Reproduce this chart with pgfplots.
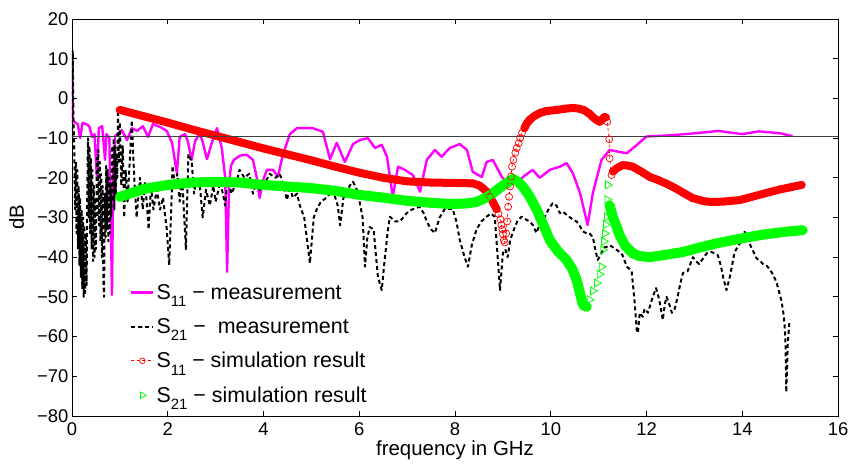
\documentclass[border=0pt]{standalone}
\usepackage{fontspec}
\setmainfont{Liberation Sans}
\usepackage{pgfplots}
\usepackage{pgfplotstable}
\pgfplotsset{compat=1.18}
\definecolor{mmag}{rgb}{1,0,1}
\definecolor{mred}{rgb}{1,0,0}
\definecolor{mgreen}{rgb}{0,1,0}
\newcommand{\sub}[1]{\raisebox{-7.5bp}{\fontsize{15}{15}\selectfont #1}}

% S11 simulation (red)
\pgfplotstableread{
x y
1.0 -2.9
1.5 -4.5
2.0 -6.1
2.5 -7.8
3.0 -9.4
3.5 -11.0
4.0 -12.6
4.5 -14.1
5.0 -15.6
5.5 -17.2
6.0 -18.7
6.5 -20.0
7.0 -20.9
7.5 -21.2
8.0 -21.3
8.37 -21.4
8.5 -21.9
8.58 -22.6
8.66 -23.5
8.73 -24.8
8.8 -26.3
8.87 -27.9
}\redA
\pgfplotstableread{
x y
8.87 -27.9
8.91 -29.1
8.95 -30.5
8.97 -31.9
8.99 -33.0
9.00 -34.2
9.02 -35.7
9.04 -36.3
9.07 -34.0
9.09 -31.0
9.11 -27.3
9.13 -24.8
9.15 -22.2
9.17 -19.7
9.19 -17.2
9.22 -15.5
9.26 -13.7
9.29 -12.5
9.33 -11.3
9.36 -10.0
9.40 -8.7
9.45 -7.5
}\redB
\pgfplotstableread{
x y
9.45 -7.5
9.50 -6.3
9.56 -5.4
9.65 -4.5
9.77 -3.7
9.90 -3.2
10.13 -2.9
10.30 -2.6
10.46 -2.4
10.60 -2.6
10.70 -3.0
10.80 -3.8
10.88 -4.7
10.95 -5.4
11.02 -5.9
11.07 -5.3
11.12 -4.7
11.15 -4.8
}\redC
\pgfplotstableread{
x y
11.15 -4.8
11.18 -5.9
11.22 -10.3
11.23 -15.1
11.27 -19.3
11.30 -18.4
}\redD
\pgfplotstableread{
x y
11.30 -18.4
11.38 -17.6
11.50 -16.8
11.60 -16.9
11.71 -17.2
11.90 -18.5
12.07 -19.8
12.25 -20.6
12.42 -21.5
12.60 -22.6
12.80 -24.0
12.96 -25.1
13.20 -25.9
13.38 -26.1
13.60 -26.0
13.95 -25.6
14.20 -24.8
14.51 -23.8
14.80 -22.9
15.00 -22.4
15.24 -21.8
}\redE

% S21 simulation (green)
\pgfplotstableread{
x y
1.0 -24.8
1.5 -22.8
2.0 -21.8
2.5 -21.2
3.0 -21.0
3.5 -21.2
4.0 -21.8
4.5 -22.2
5.0 -22.6
5.5 -23.3
6.0 -24.3
6.5 -25.0
7.0 -25.8
7.5 -26.3
7.9 -26.6
8.2 -26.5
8.45 -26.1
8.65 -25.0
8.8 -23.8
8.95 -22.4
9.08 -21.3
9.21 -20.3
9.32 -21.0
9.42 -22.3
9.55 -24.5
9.71 -28.1
9.85 -32.0
9.98 -35.7
10.15 -38.5
10.33 -40.7
10.45 -43.0
10.54 -45.7
10.62 -49.5
10.67 -52.0
10.75 -52.5
}\greenA
\pgfplotstableread{
x y
10.75 -52.5
10.81 -50.7
10.88 -48.5
10.96 -46.5
11.02 -44.3
11.06 -42.4
11.09 -38.2
11.11 -36.0
11.13 -34.0
11.15 -31.8
11.17 -29.8
11.18 -25.5
11.19 -21.8
11.23 -27.0
}\greenB
\pgfplotstableread{
x y
11.23 -27.0
11.30 -30.0
11.38 -32.5
11.44 -34.5
11.55 -37.0
11.71 -39.0
11.85 -39.7
12.07 -40.0
12.40 -39.4
12.76 -38.7
13.10 -37.6
13.47 -36.5
13.80 -35.7
14.15 -34.9
14.50 -34.2
14.90 -33.6
15.26 -33.2
}\greenC

\begin{document}
\begin{tikzpicture}
\begin{axis}[
  scale only axis, width=766bp, height=397bp,
  xmin=0, xmax=16, ymin=-80, ymax=20,
  xtick={0,2,...,16}, ytick={-80,-70,...,20},
  xticklabels={0,2,4,6,8,10,12,14,16},
  yticklabels={−80,−70,−60,−50,−40,−30,−20,−10,0,10,20},
  tick label style={font=\fontsize{18.5}{18.5}\selectfont},
  xticklabel style={anchor=base, yshift=-20bp},
  yticklabel style={anchor=east, xshift=0bp},
  xlabel={frequency in GHz}, ylabel={dB},
  xlabel style={font=\fontsize{20.5}{20.5}\selectfont, at={(axis description cs:0.5,-0.0995)}, anchor=base},
  ylabel style={font=\fontsize{20.5}{20.5}\selectfont, at={(axis description cs:-0.0725,0.5)}, anchor=center},
  axis line style={line width=0.9bp},
  major tick style={line width=0.9bp, black},
  major tick length=5bp,
  tick align=inside,
  legend style={draw=none, fill=none, at={(axis cs:1.21,-46.3)}, anchor=north west,
    font=\fontsize{21.5}{21.5}\selectfont, row sep=13.5bp, inner sep=0pt,
    cells={anchor=west}},
  legend image code/.code={\draw[mark repeat=2,mark phase=2,#1] plot coordinates {(0bp,0bp) (11bp,0bp) (22bp,0bp)};},
]
\addlegendimage{mmag, line width=2.4bp}
\addlegendimage{black, line width=2bp, dash pattern=on 4bp off 3bp}
\addlegendimage{mred, line width=0.7bp, dash pattern=on 3bp off 2.5bp, mark=o, mark size=2.8bp, mark options={solid}}
\addlegendimage{only marks, mgreen, mark=triangle, mark size=3.8bp, mark options={rotate=-90, line width=0.7bp}}

% S11 measurement
\addplot[mmag, line width=2.4bp, line join=round, forget plot] coordinates {
(0,7) (0.02,-5.5) (0.06,-6) (0.12,-6.5) (0.17,-10) (0.22,-6.2) (0.3,-6.5) (0.36,-7)
(0.42,-9.7) (0.47,-9) (0.52,-20) (0.56,-7.5) (0.63,-7) (0.69,-15.5) (0.72,-9) (0.78,-10)
(0.81,-30) (0.835,-49.5) (0.86,-20) (0.9,-9.5) (1.0,-8.5) (1.04,-8) (1.15,-10.5) (1.25,-7.5)
(1.36,-8.2) (1.48,-7) (1.59,-9.7) (1.69,-6.5) (1.84,-7.2) (1.98,-8.2) (2.09,-11.2) (2.19,-18.8)
(2.25,-9.7) (2.36,-9) (2.42,-10.8) (2.5,-15.5) (2.57,-10.8) (2.67,-8.8) (2.73,-11) (2.82,-15.3)
(2.92,-11.2) (3.03,-7.5) (3.13,-12.6) (3.2,-20) (3.24,-43.7) (3.28,-22) (3.32,-17) (3.38,-15.5)
(3.51,-14.4) (3.65,-14.2) (3.78,-15.5) (3.86,-20) (3.92,-25.1) (3.98,-21) (4.07,-18) (4.2,-18)
(4.3,-19.7) (4.4,-14.4) (4.55,-9) (4.7,-7.5) (5.03,-7.5) (5.24,-8.4) (5.39,-15.3) (5.53,-11.2)
(5.7,-16) (5.87,-11.5) (6.01,-10.5) (6.18,-10) (6.33,-12.5) (6.47,-11.7) (6.58,-14.7) (6.7,-24.8)
(6.81,-17.2) (6.95,-18) (7.12,-19.3) (7.27,-23.5) (7.41,-15.5) (7.58,-13) (7.72,-14.7) (7.89,-12.5)
(8.1,-11.5) (8.25,-13) (8.37,-18.5) (8.56,-19.8) (8.66,-16) (8.79,-15.5) (8.98,-19.8) (9.08,-21.3)
(9.29,-21.3) (9.42,-19.8) (9.62,-18) (9.77,-20) (9.98,-18) (10.19,-17.2) (10.33,-16.3) (10.46,-18.8)
(10.61,-23.8) (10.77,-31.9) (10.88,-23.8) (11.06,-15.5) (11.23,-13) (11.44,-13.5) (11.59,-13.8)
(11.8,-11.7) (12.0,-9.6) (12.5,-9.3) (13.0,-8.8) (13.5,-8.2) (14.0,-9) (14.35,-8.3) (14.8,-8.8) (15.05,-9.5)
};

% S21 measurement
\addplot[black, line width=2bp, dash pattern=on 4bp off 3bp, line join=round, forget plot] coordinates {
(0,-10) (0.015,12) (0.03,-5) (0.05,-15) (0.065,-28) (0.08,-16) (0.095,-34) (0.11,-18) (0.125,-38)
(0.14,-22) (0.155,-42) (0.17,-25) (0.185,-45) (0.2,-28) (0.215,-48) (0.23,-30) (0.245,-50) (0.26,-32)
(0.275,-49) (0.29,-35) (0.305,-47) (0.32,-22) (0.335,-10) (0.35,-30) (0.365,-12) (0.38,-34) (0.395,-15)
(0.41,-38) (0.425,-18) (0.44,-41) (0.455,-22) (0.47,-40) (0.485,-25) (0.5,-38) (0.52,-15) (0.535,-30)
(0.55,-13) (0.565,-32) (0.58,-16) (0.595,-36) (0.61,-19) (0.625,-40) (0.64,-22) (0.655,-46) (0.67,-50)
(0.685,-24) (0.7,-35) (0.715,-17) (0.73,-33) (0.745,-18) (0.76,-36) (0.775,-20) (0.79,-34) (0.805,-22)
(0.82,-30) (0.84,-12) (0.855,-26) (0.87,-10) (0.885,-28) (0.9,-12) (0.915,-25) (0.93,-14) (0.945,-20)
(0.96,-3) (0.98,-16) (1.0,-6) (1.03,-22) (1.06,-12) (1.09,-30) (1.12,-18) (1.16,-26) (1.21,-15)
(1.25,-5.5) (1.3,-20) (1.35,-30) (1.42,-20) (1.48,-28) (1.52,-21) (1.56,-26) (1.6,-33) (1.65,-22)
(1.7,-28) (1.77,-23) (1.84,-28) (1.9,-25) (1.98,-33) (2.03,-42) (2.08,-25) (2.1,-17) (2.15,-22)
(2.2,-19) (2.25,-26) (2.3,-20) (2.38,-38) (2.43,-14) (2.5,-16) (2.55,-24) (2.6,-20) (2.67,-22)
(2.73,-30) (2.8,-23) (2.88,-27) (2.95,-22) (3.0,-26) (3.1,-21) (3.2,-27) (3.25,-20) (3.33,-24)
(3.44,-21) (3.5,-18) (3.6,-20) (3.7,-19) (3.78,-24) (3.85,-21) (3.92,-23) (4.0,-22) (4.13,-19)
(4.25,-20) (4.34,-19) (4.42,-22) (4.49,-25.6) (4.55,-22) (4.61,-25) (4.7,-24) (4.76,-27) (4.85,-30)
(4.97,-41.5) (5.05,-30) (5.11,-28) (5.2,-26) (5.32,-25) (5.45,-23) (5.55,-27) (5.6,-32) (5.67,-25)
(5.74,-24) (5.8,-22) (5.87,-21) (5.95,-23) (6.0,-25.6) (6.07,-30) (6.12,-42.4) (6.17,-35) (6.22,-32.4)
(6.3,-33) (6.39,-45) (6.47,-48.3) (6.53,-40.7) (6.6,-33) (6.64,-29.8) (6.75,-31) (6.85,-31) (6.99,-28.9)
(7.1,-28) (7.26,-27.3) (7.35,-29) (7.41,-31) (7.5,-33) (7.58,-33.9) (7.68,-30) (7.79,-27.8) (7.95,-27.8)
(8.03,-31) (8.1,-35.7) (8.2,-40) (8.27,-42.4) (8.35,-37) (8.45,-33) (8.55,-31) (8.66,-29.8) (8.75,-29)
(8.83,-29.8) (8.88,-38) (8.94,-48.3) (9.0,-39) (9.05,-38) (9.1,-40) (9.15,-36) (9.2,-33.9) (9.3,-31)
(9.39,-29.8) (9.48,-30.5) (9.56,-31) (9.63,-32) (9.7,-33.9) (9.76,-32) (9.83,-31) (9.95,-28) (10.04,-26.4)
(10.12,-27) (10.19,-28.9) (10.25,-28.5) (10.35,-29.5) (10.46,-30.5) (10.54,-31) (10.6,-32) (10.67,-33.5)
(10.75,-34) (10.81,-34) (10.88,-35) (10.93,-38) (10.98,-40.7) (11.06,-39) (11.12,-37.5) (11.17,-37.4)
(11.23,-37) (11.3,-37.5) (11.44,-38.7) (11.5,-39.5) (11.59,-42.4) (11.65,-43) (11.69,-43.5) (11.75,-51)
(11.8,-59) (11.82,-59) (11.86,-54) (11.92,-55) (11.96,-53) (12.03,-54) (12.08,-52) (12.13,-50) (12.2,-47.8)
(12.25,-50) (12.28,-51.6) (12.34,-55.8) (12.38,-52) (12.42,-50) (12.48,-52) (12.53,-54) (12.59,-53)
(12.65,-50) (12.7,-47) (12.76,-44) (12.86,-43.5) (12.97,-40) (13.03,-41) (13.1,-41.7) (13.2,-40)
(13.26,-39) (13.36,-38.7) (13.49,-39.5) (13.55,-42) (13.6,-45) (13.67,-48.3) (13.74,-45) (13.84,-38.7)
(13.95,-36.5) (14.05,-33.6) (14.15,-36.5) (14.3,-40.3) (14.38,-41) (14.43,-41.7) (14.5,-42) (14.57,-43)
(14.65,-44.5) (14.72,-46.5) (14.82,-51) (14.87,-55) (14.9,-60) (14.92,-74) (14.95,-62) (14.98,-57) (15.0,-55.8)
};

% S11 simulation: dense bands then marks
\addplot[mred, line width=8bp, line cap=round, line join=round, forget plot] table {\redA};
\addplot[mred, line width=8bp, line cap=round, line join=round, forget plot] table {\redC};
\addplot[mred, line width=8bp, line cap=round, line join=round, forget plot] table {\redE};
\addplot[mred, line width=0.7bp, dash pattern=on 3bp off 2.5bp, mark=o, mark size=3.5bp, mark options={solid}, forget plot] table {\redA};
\addplot[mred, line width=0.7bp, dash pattern=on 3bp off 2.5bp, mark=o, mark size=3.5bp, mark options={solid}, forget plot] table {\redB};
\addplot[mred, line width=0.7bp, dash pattern=on 3bp off 2.5bp, mark=o, mark size=3.5bp, mark options={solid}, forget plot] table {\redC};
\addplot[mred, line width=0.7bp, dash pattern=on 3bp off 2.5bp, mark=o, mark size=3.5bp, mark options={solid}, forget plot] table {\redD};
\addplot[mred, line width=0.7bp, dash pattern=on 3bp off 2.5bp, mark=o, mark size=3.5bp, mark options={solid}, forget plot] table {\redE};

% S21 simulation
\addplot[mgreen, line width=10bp, line cap=round, line join=round, forget plot] table {\greenA};
\addplot[mgreen, line width=10bp, line cap=round, line join=round, forget plot] table {\greenC};
\addplot[only marks, mgreen, mark=triangle, mark size=4.5bp, mark options={rotate=-90, line width=0.8bp}, forget plot] table {\greenA};
\addplot[only marks, mgreen, mark=triangle, mark size=4.5bp, mark options={rotate=-90, line width=0.8bp}, forget plot] table {\greenB};
\addplot[only marks, mgreen, mark=triangle, mark size=4.5bp, mark options={rotate=-90, line width=0.8bp}, forget plot] table {\greenC};

% -10 dB reference line
\addplot[black!75, line width=0.9bp, forget plot] coordinates {(0,-9.6) (16,-9.6)};

\legend{S\sub{11} − measurement, S\sub{21} − \ measurement, S\sub{11} − simulation result, S\sub{21} − simulation result}
\end{axis}
\pgfresetboundingbox
\path[use as bounding box] ([shift={(-72bp,-48bp)}]current axis.south west) rectangle ([shift={(15bp,19bp)}]current axis.north east);
\end{tikzpicture}
\end{document}
